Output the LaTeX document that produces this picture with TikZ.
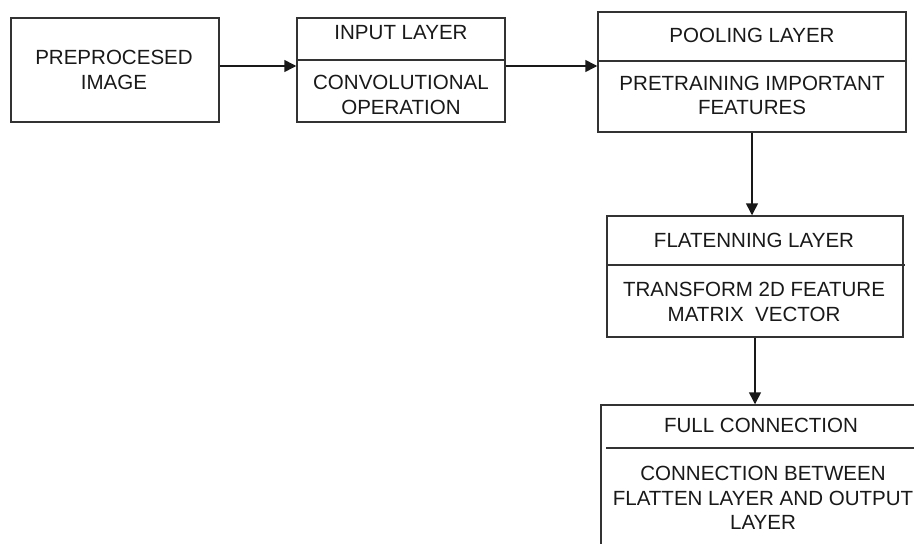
\documentclass[tikz,border=0pt]{standalone}
\usepackage{fontspec}
\setmainfont{Liberation Sans}
\usetikzlibrary{arrows.meta}
\begin{document}
\begin{tikzpicture}[x=0.75pt,y=-0.75pt,
  box/.style={draw=black!80, line width=1.1pt, inner sep=0pt, fill=white},
  lbl/.style={font=\fontsize{15.4}{18.2}\selectfont, align=center, text=black!90, inner sep=0pt},
  divider/.style={draw=black!80, line width=1.1pt},
  conn/.style={draw=black!90, line width=1.1pt, -{Triangle[length=9pt,width=9pt]}}]
\useasboundingbox (0,0) rectangle (914,543);
\clip (0,0) rectangle (914,543);
% boxes
\node[box, minimum width=156pt, minimum height=78pt] (b1) at (115,70) {};
\node[box, minimum width=156pt, minimum height=78pt] (b2) at (401,70) {};
\node[box, minimum width=231pt, minimum height=90pt] (b3) at (752,72) {};
\node[box, minimum width=222pt, minimum height=90.75pt] (b4) at (755,276.5) {};
\node[box, minimum width=246pt, minimum height=123pt] (b5) at (765,487) {};
% dividers
\draw[divider] (b2.west |- 0,60) -- (b2.east |- 0,60);
\draw[divider] (b3.west |- 0,61) -- (b3.east |- 0,61);
\draw[divider] (b4.west |- 0,265) -- (905,265);
\draw[divider] (606,448) -- (b5.east |- 0,448);
% texts
\node[lbl] (t1) at (114,70) {PREPROCESED\\IMAGE};
\node[lbl] (t2a) at (401,33) {INPUT LAYER};
\node[lbl] (t2b) at (401,95) {CONVOLUTIONAL\\OPERATION};
\node[lbl] (t3a) at (752,35) {POOLING LAYER};
\node[lbl] (t3b) at (752,95.5) {PRETRAINING IMPORTANT\\FEATURES};
\node[lbl] (t4a) at (754,240) {FLATENNING LAYER};
\node[lbl] (t4b) at (754,302) {TRANSFORM 2D FEATURE\\MATRIX\ \ VECTOR};
\node[lbl] (t5a) at (761,425) {FULL CONNECTION};
\node[lbl] (t5b) at (763,498) {CONNECTION BETWEEN\\FLATTEN LAYER AND OUTPUT\\LAYER};
% connectors
\draw[conn] ([yshift=3pt]b1.east) -- ([yshift=3pt]b2.west);
\draw[conn] ([yshift=3pt]b2.east) -- ([yshift=4.5pt]b3.west);
\draw[conn] (b3.south) -- (b3.south |- b4.north);
\draw[conn] (b4.south) -- (b4.south |- b5.north);
\end{tikzpicture}
\end{document}
